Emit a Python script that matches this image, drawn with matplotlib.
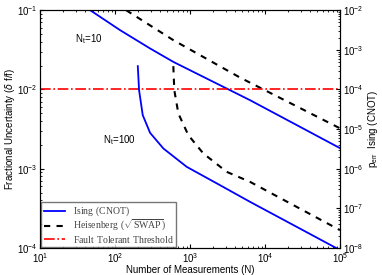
import matplotlib
matplotlib.use('Agg')
import matplotlib.pyplot as plt
import numpy as np

plt.rcParams['font.family'] = 'Liberation Sans'
plt.rcParams['mathtext.fontset'] = 'custom'
plt.rcParams['mathtext.rm'] = 'Liberation Sans'
plt.rcParams['mathtext.sf'] = 'Liberation Serif'

# log10(N), log10(delta f / f)
ising_10_logn = [1.667, 2.067, 2.467, 2.777, 3.533, 3.8, 5.0]
ising_10_logd = [-1.0, -1.252, -1.483, -1.652, -2.009, -2.135, -2.74]
heis_10_logn = [2.147, 2.777, 3.667, 5.0]
heis_10_logd = [-1.0, -1.378, -1.85, -2.49]
ising_100_logn = [2.303, 2.32, 2.369, 2.467, 2.644, 2.956, 3.4, 3.8, 4.95]
ising_100_logd = [-1.706, -2.009, -2.324, -2.547, -2.744, -2.976, -3.207, -3.417, -4.0]
heis_100_logn = [2.777, 2.79, 2.844, 2.977, 3.177, 3.489, 3.8, 5.0]
heis_100_logd = [-1.706, -2.009, -2.303, -2.576, -2.807, -3.039, -3.165, -3.774]
threshold = 1e-2

fig = plt.figure(figsize=(3.82, 2.75), dpi=100)
ax = fig.add_axes([0.105, 0.098, 0.785, 0.865])

p = lambda v: 10 ** np.array(v)
ax.plot(p(ising_10_logn), p(ising_10_logd), color='#0000ff', lw=1.3, label=r'$\mathsf{Ising\ (CNOT)}$')
ax.plot(p(heis_10_logn), p(heis_10_logd), color='black', lw=1.5, ls=(0, (3, 3)),
        label=r'$\mathsf{Heisenberg\ (\sqrt{SWAP})}$')
ax.axhline(threshold, color='red', lw=1.2, ls='-.', label=r'$\mathsf{Fault\ Tolerant\ Threshold}$')
ax.plot(p(ising_100_logn), p(ising_100_logd), color='#0000ff', lw=1.3)
ax.plot(p(heis_100_logn), p(heis_100_logd), color='black', lw=1.5, ls=(0, (3, 3)))

ax.set_xscale('log')
ax.set_yscale('log')
ax.set_xlim(10, 1e5)
ax.set_ylim(1e-4, 1e-1)
ax.tick_params(which='both', direction='in', top=True, labelsize=7, pad=2)
ax.tick_params(which='major', length=3)
ax.tick_params(which='minor', length=1.5)
ax.set_xlabel('Number of Measurements (N)', fontsize=7, labelpad=0)
ax.set_ylabel(r'Fractional Uncertainty ($\delta$ f/f)', fontsize=7, labelpad=0)

ax.text(29, 0.043, r'N$_\mathrm{t}$=10', fontsize=7, va='center')
ax.text(69, 2.3e-3, r'N$_\mathrm{t}$=100', fontsize=7, va='center')

leg = ax.legend(loc='lower left', fontsize=7, frameon=True, fancybox=False,
                borderaxespad=0.1, handlelength=2.2, labelspacing=0.02, borderpad=0.25,
                handletextpad=0.8)
leg.get_frame().set_edgecolor('#555555')
for t in leg.get_texts():
    t.set_color('#444444')

ax2 = ax.twinx()
ax2.set_yscale('log')
ax2.set_ylim(1e-8, 1e-2)
ax2.tick_params(which='both', direction='in', labelsize=7, pad=2)
ax2.tick_params(which='major', length=3)
ax2.tick_params(which='minor', length=1.5)
ax2.set_ylabel(r'p$_\mathrm{err}$  Ising (CNOT)', fontsize=7, labelpad=2)

plt.savefig('out.png', dpi=100)
